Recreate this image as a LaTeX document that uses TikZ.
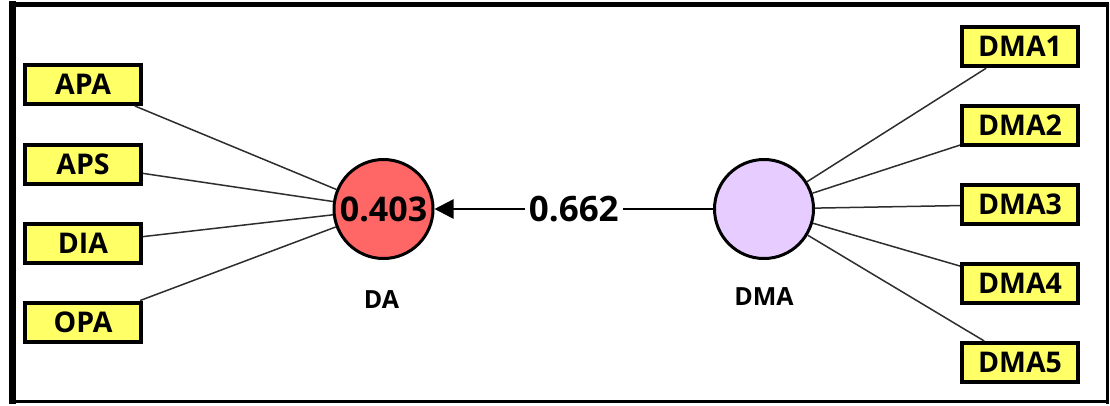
\documentclass[tikz,border=0pt]{standalone}
\usepackage{fontspec}
\setmainfont{Open Sans}
\usetikzlibrary{arrows.meta}
\definecolor{boxyellow}{RGB}{255,255,102}
\definecolor{darkred}{RGB}{255,102,102}
\definecolor{lavender}{RGB}{230,204,255}
\definecolor{linegray}{RGB}{45,45,45}
\tikzset{
  ind/.style={draw=black, line width=4pt, fill=boxyellow, minimum width=116pt, minimum height=39pt, inner sep=0pt, font=\fontsize{28.5}{30}\selectfont\bfseries},
  latent/.style={circle, draw=black, line width=3pt, minimum size=99pt, inner sep=0pt},
  lbl/.style={font=\fontsize{25}{27}\selectfont\bfseries},
  load/.style={draw=linegray, line width=1.5pt},
}
\begin{document}
\begin{tikzpicture}[x=1pt,y=-1pt]
\useasboundingbox (0,0) rectangle (1110,405);
% frame
\draw[line width=7pt] (12.5,1) -- (12.5,404);
\draw[line width=5pt] (9,4.5) -- (1109,4.5);
\draw[line width=3.5pt] (1107.5,2) -- (1107.5,403.5);
\draw[line width=3.5pt] (9,401.7) -- (1109,401.7);
% latent variables
\node[latent, fill=darkred, font=\fontsize{34}{36}\selectfont\bfseries] (DA) at (383.5,209) {0.403};
\node[latent, fill=lavender] (DMA) at (764,209) {};
\node[lbl] (DAl) at (381.5,300) {DA};
\node[lbl] (DMAl) at (764,297) {DMA};
% indicators left
\node[ind] (APA) at (83,84.5) {APA};
\node[ind] (APS) at (83,164.5) {APS};
\node[ind] (DIA) at (83,243.5) {DIA};
\node[ind] (OPA) at (83,322) {OPA};
% indicators right
\node[ind] (DMA1) at (1020,46.7) {DMA1};
\node[ind] (DMA2) at (1020,125.5) {DMA2};
\node[ind] (DMA3) at (1020,204.5) {DMA3};
\node[ind] (DMA4) at (1020,283.5) {DMA4};
\node[ind] (DMA5) at (1020,362.5) {DMA5};
% loadings
\foreach \n in {APA,APS,DIA,OPA} \draw[load] (\n) -- (DA);
\foreach \n in {DMA1,DMA2,DMA3,DMA4,DMA5} \draw[load] (DMA) -- (\n);
% path
\draw[line width=2.5pt, -{Triangle[length=19pt,width=19pt]}] (DMA) -- node[fill=white, inner sep=4pt, font=\fontsize{35}{37}\selectfont\bfseries] (coef) {0.662} (DA);
\end{tikzpicture}
\end{document}
